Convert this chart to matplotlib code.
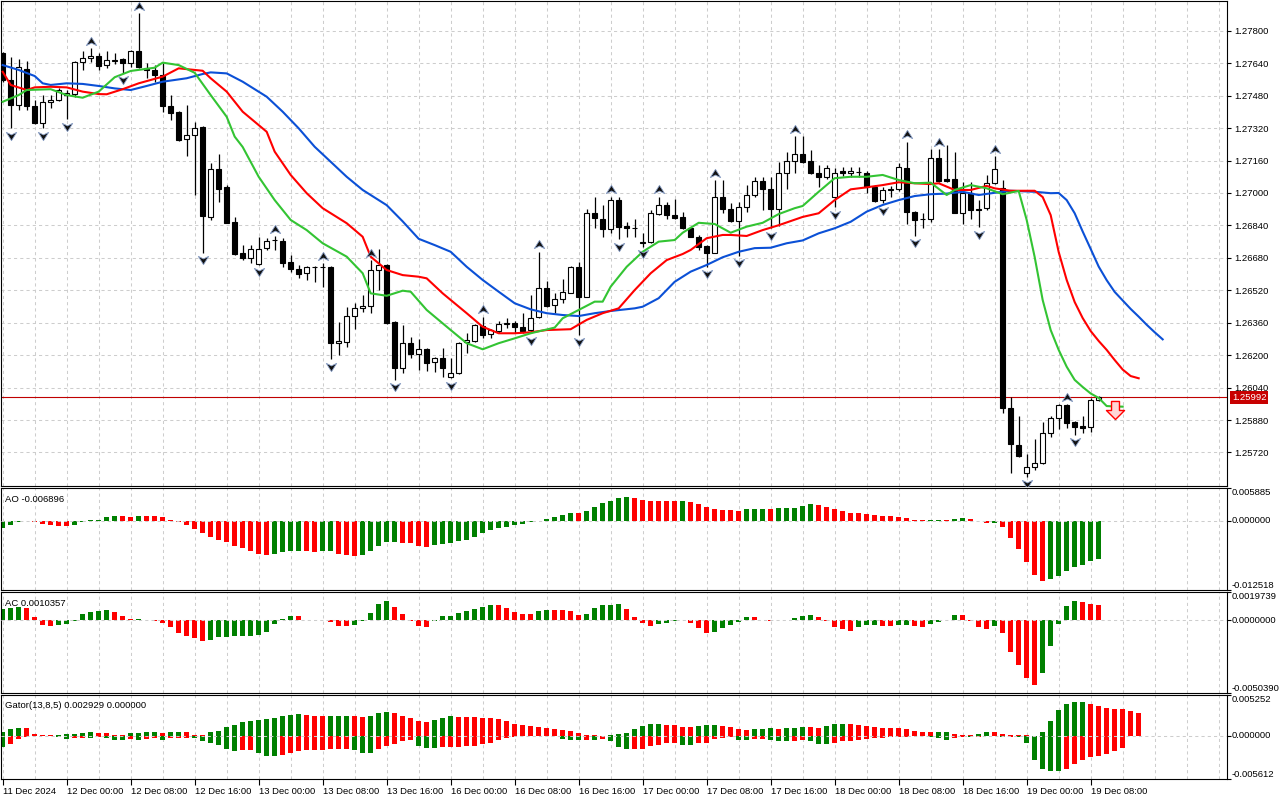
import numpy as np
import matplotlib.pyplot as plt
from matplotlib.path import Path

plt.rcParams['font.family'] = ['Liberation Sans', 'DejaVu Sans']

# ---- H1 candles, 11 Dec 2024 16:00 .. 19 Dec 2024 09:00 ----
opens = [1.27689, 1.27557, 1.27434, 1.27610, 1.27429, 1.27344, 1.27449, 1.27459, 1.27483, 1.27488,
         1.27645, 1.27664, 1.27676, 1.27630, 1.27653, 1.27661, 1.27640, 1.27699, 1.27618, 1.27607,
         1.27582, 1.27429, 1.27401, 1.27265, 1.27286, 1.27327, 1.26883, 1.27117, 1.27030, 1.26857,
         1.26703, 1.26678, 1.26650, 1.26727, 1.26768, 1.26763, 1.26658, 1.26627, 1.26604, 1.26636,
         1.26637, 1.26636, 1.26259, 1.26266, 1.26395, 1.26431, 1.26443, 1.26620, 1.26645, 1.26365,
         1.26135, 1.26262, 1.26204, 1.26230, 1.26166, 1.26186, 1.26094, 1.26111, 1.26265, 1.26271,
         1.26344, 1.26304, 1.26318, 1.26354, 1.26357, 1.26337, 1.26324, 1.26387, 1.26530, 1.26448,
         1.26476, 1.26508, 1.26633, 1.26488, 1.26900, 1.26872, 1.26821, 1.26965, 1.26837, 1.26827,
         1.26760, 1.26757, 1.26896, 1.26939, 1.26891, 1.26880, 1.26826, 1.26781, 1.26739, 1.26706,
         1.26982, 1.26921, 1.26863, 1.26932, 1.26990, 1.27058, 1.27018, 1.26920, 1.27097, 1.27159,
         1.27191, 1.27159, 1.27100, 1.27077, 1.26979, 1.27110, 1.27097, 1.27105, 1.27100, 1.27028,
         1.26965, 1.27015, 1.27018, 1.27122, 1.26908, 1.26870, 1.26870, 1.27171, 1.27068, 1.27068,
         1.26903, 1.27001, 1.26923, 1.26925, 1.27048, 1.27023, 1.25938, 1.25757, 1.25617, 1.25647,
         1.25667, 1.25818, 1.25889, 1.25954, 1.25872, 1.25851, 1.25844, 1.25979]
highs = [1.27697, 1.27672, 1.27660, 1.27651, 1.27459, 1.27483, 1.27483, 1.27516, 1.27508, 1.27651,
         1.27702, 1.27714, 1.27692, 1.27702, 1.27689, 1.27667, 1.27705, 1.27886, 1.27640, 1.27631,
         1.27640, 1.27483, 1.27405, 1.27433, 1.27352, 1.27330, 1.27147, 1.27192, 1.27039, 1.26883,
         1.26743, 1.26743, 1.26781, 1.26777, 1.26788, 1.26777, 1.26694, 1.26645, 1.26641, 1.26641,
         1.26653, 1.26640, 1.26365, 1.26436, 1.26456, 1.26497, 1.26669, 1.26722, 1.26650, 1.26370,
         1.26349, 1.26288, 1.26278, 1.26234, 1.26192, 1.26234, 1.26185, 1.26263, 1.26308, 1.26354,
         1.26390, 1.26328, 1.26370, 1.26382, 1.26370, 1.26410, 1.26497, 1.26710, 1.26567, 1.26505,
         1.26574, 1.26640, 1.26661, 1.26920, 1.26979, 1.26939, 1.26982, 1.26982, 1.26858, 1.26870,
         1.26801, 1.26916, 1.26982, 1.26957, 1.26969, 1.26908, 1.26834, 1.26793, 1.26743, 1.27064,
         1.27064, 1.26949, 1.26957, 1.27039, 1.27077, 1.27077, 1.27080, 1.27154, 1.27204, 1.27281,
         1.27281, 1.27212, 1.27138, 1.27138, 1.27122, 1.27130, 1.27130, 1.27130, 1.27109, 1.27039,
         1.27031, 1.27035, 1.27147, 1.27253, 1.26913, 1.26900, 1.27216, 1.27216, 1.27237, 1.27204,
         1.27056, 1.27056, 1.26965, 1.27089, 1.27183, 1.27064, 1.25995, 1.25900, 1.25712, 1.25785,
         1.25872, 1.25900, 1.25959, 1.25959, 1.25877, 1.25900, 1.25987, 1.25999]
lows = [1.27549, 1.27319, 1.27409, 1.27409, 1.27340, 1.27319, 1.27418, 1.27455, 1.27364, 1.27475,
        1.27607, 1.27648, 1.27607, 1.27618, 1.27636, 1.27593, 1.27623, 1.27615, 1.27566, 1.27549,
        1.27401, 1.27360, 1.27255, 1.27183, 1.26990, 1.26703, 1.26867, 1.26957, 1.26850, 1.26694,
        1.26669, 1.26656, 1.26645, 1.26719, 1.26719, 1.26636, 1.26612, 1.26579, 1.26571, 1.26562,
        1.26535, 1.26180, 1.26201, 1.26242, 1.26329, 1.26414, 1.26410, 1.26521, 1.26355, 1.26078,
        1.26111, 1.26185, 1.26127, 1.26123, 1.26118, 1.26094, 1.26086, 1.26107, 1.26209, 1.26266,
        1.26283, 1.26283, 1.26311, 1.26333, 1.26311, 1.26308, 1.26308, 1.26385, 1.26439, 1.26407,
        1.26456, 1.26505, 1.26300, 1.26485, 1.26826, 1.26784, 1.26804, 1.26772, 1.26784, 1.26781,
        1.26735, 1.26752, 1.26891, 1.26870, 1.26870, 1.26821, 1.26781, 1.26719, 1.26636, 1.26703,
        1.26903, 1.26858, 1.26689, 1.26908, 1.26982, 1.26916, 1.26826, 1.26837, 1.27018, 1.27097,
        1.27147, 1.27094, 1.27031, 1.27068, 1.26929, 1.27084, 1.27077, 1.27077, 1.27001, 1.26957,
        1.26949, 1.26982, 1.27011, 1.26847, 1.26788, 1.26826, 1.26858, 1.27056, 1.27054, 1.26900,
        1.26847, 1.26870, 1.26831, 1.26916, 1.27045, 1.25913, 1.25617, 1.25696, 1.25600, 1.25634,
        1.25664, 1.25798, 1.25834, 1.25839, 1.25806, 1.25818, 1.25822, 1.25975]
closes = [1.27557, 1.27434, 1.27623, 1.27429, 1.27344, 1.27447, 1.27459, 1.27508, 1.27492, 1.27646,
          1.27664, 1.27676, 1.27628, 1.27656, 1.27654, 1.27640, 1.27699, 1.27620, 1.27607, 1.27582,
          1.27429, 1.27396, 1.27261, 1.27286, 1.27319, 1.26887, 1.27117, 1.27021, 1.26853, 1.26699,
          1.26678, 1.26722, 1.26724, 1.26763, 1.26770, 1.26656, 1.26624, 1.26600, 1.26633, 1.26637,
          1.26636, 1.26259, 1.26270, 1.26393, 1.26431, 1.26443, 1.26620, 1.26645, 1.26360, 1.26135,
          1.26259, 1.26204, 1.26230, 1.26160, 1.26186, 1.26135, 1.26111, 1.26259, 1.26275, 1.26347,
          1.26301, 1.26324, 1.26354, 1.26358, 1.26337, 1.26321, 1.26382, 1.26530, 1.26444, 1.26476,
          1.26510, 1.26633, 1.26485, 1.26900, 1.26875, 1.26821, 1.26965, 1.26834, 1.26827, 1.26828,
          1.26755, 1.26900, 1.26939, 1.26891, 1.26875, 1.26826, 1.26784, 1.26735, 1.26706, 1.26982,
          1.26920, 1.26863, 1.26932, 1.26989, 1.27058, 1.27018, 1.26920, 1.27097, 1.27159, 1.27191,
          1.27154, 1.27100, 1.27077, 1.27122, 1.27100, 1.27097, 1.27109, 1.27106, 1.27028, 1.26962,
          1.27015, 1.27021, 1.27127, 1.26908, 1.26867, 1.26871, 1.27171, 1.27059, 1.27058, 1.26903,
          1.27001, 1.26916, 1.26916, 1.27048, 1.27117, 1.25938, 1.25760, 1.25703, 1.25647, 1.25667,
          1.25818, 1.25889, 1.25954, 1.25867, 1.25847, 1.25841, 1.25979, 1.25992]

# Bill Williams fractals (bar numbers)
fractal_up = [11, 17, 34, 40, 46, 60, 67, 76, 82, 89, 99, 113, 117, 124, 133]
fractal_down = [1, 5, 8, 15, 25, 32, 41, 49, 56, 66, 72, 77, 80, 88, 92, 96,
                104, 110, 114, 122, 128, 134]

# Alligator (13,8 / 8,5 / 5,3), shifted lines
jaw_idx = [0, 2, 4, 5, 6, 8, 10, 12, 14, 16, 18, 20, 23, 25, 26, 28, 30, 33, 35, 37,
           39, 41, 43, 45, 48, 50, 52, 54, 56, 58, 60, 62, 64, 66, 68, 70, 72, 74, 76, 79,
           80, 82, 84, 86, 88, 90, 92, 94, 96, 98, 100, 102, 104, 106, 108, 110, 112, 114, 116, 118,
           120, 122, 124, 126, 129, 131, 132, 133, 134, 135, 136, 137, 138, 139, 140, 141, 142, 143, 144, 145]
jaw_val = [1.27631, 1.27607, 1.27577, 1.27541, 1.27533, 1.27541, 1.27538, 1.27528, 1.27516, 1.27508,
           1.27528, 1.27549, 1.27566, 1.27587, 1.27595, 1.27590, 1.27549, 1.27475, 1.27401, 1.27319,
           1.27228, 1.27154, 1.27080, 1.27015, 1.26940, 1.26860, 1.26774, 1.26743, 1.26710, 1.26636,
           1.26571, 1.26513, 1.26456, 1.26426, 1.26407, 1.26398, 1.26393, 1.26407, 1.26418, 1.26431,
           1.26439, 1.26481, 1.26562, 1.26612, 1.26645, 1.26683, 1.26710, 1.26728, 1.26730, 1.26752,
           1.26766, 1.26801, 1.26826, 1.26858, 1.26908, 1.26941, 1.26965, 1.26985, 1.26994, 1.26997,
           1.27006, 1.26990, 1.27001, 1.27011, 1.27006, 1.26999, 1.27000, 1.26965, 1.26900, 1.26810,
           1.26724, 1.26637, 1.26570, 1.26512, 1.26470, 1.26428, 1.26390, 1.26350, 1.26313, 1.26278]
teeth_idx = [0, 1, 3, 4, 6, 8, 10, 12, 13, 15, 17, 20, 22, 25, 26, 28, 30, 33, 34, 36,
             38, 40, 43, 45, 46, 48, 50, 52, 53, 55, 58, 60, 62, 64, 66, 68, 71, 73, 75, 77,
             79, 81, 83, 85, 86, 88, 90, 91, 93, 95, 97, 100, 102, 104, 106, 108, 110, 112, 114, 116,
             117, 119, 121, 123, 124, 126, 129, 130, 131, 132, 133, 134, 135, 136, 137, 138, 139, 140, 141, 142]
teeth_val = [1.27598, 1.27533, 1.27508, 1.27521, 1.27524, 1.27521, 1.27500, 1.27488, 1.27487, 1.27512,
             1.27541, 1.27574, 1.27615, 1.27603, 1.27566, 1.27500, 1.27401, 1.27302, 1.27204, 1.27089,
             1.26999, 1.26925, 1.26851, 1.26784, 1.26686, 1.26620, 1.26595, 1.26587, 1.26579, 1.26505,
             1.26407, 1.26340, 1.26308, 1.26308, 1.26313, 1.26324, 1.26328, 1.26374, 1.26407, 1.26431,
             1.26521, 1.26604, 1.26669, 1.26699, 1.26719, 1.26777, 1.26793, 1.26793, 1.26788, 1.26817,
             1.26841, 1.26882, 1.26900, 1.26965, 1.27018, 1.27028, 1.27039, 1.27053, 1.27048, 1.27044,
             1.27048, 1.27015, 1.27015, 1.27035, 1.27023, 1.27011, 1.27011, 1.26980, 1.26891, 1.26709,
             1.26571, 1.26462, 1.26383, 1.26319, 1.26270, 1.26226, 1.26176, 1.26129, 1.26097, 1.26086]
lips_idx = [0, 2, 3, 6, 8, 10, 12, 14, 16, 19, 20, 22, 24, 26, 28, 29, 30, 32, 34, 36,
            38, 40, 43, 45, 46, 48, 50, 51, 53, 56, 58, 60, 62, 64, 66, 69, 70, 72, 74, 75,
            76, 78, 80, 82, 84, 85, 87, 89, 91, 93, 95, 97, 99, 100, 102, 104, 106, 108, 110, 112,
            114, 116, 118, 119, 121, 123, 125, 127, 128, 129, 130, 131, 132, 133, 134, 135, 136, 137, 138, 139, 140]
lips_val = [1.27450, 1.27483, 1.27508, 1.27512, 1.27483, 1.27470, 1.27500, 1.27571, 1.27602, 1.27618,
            1.27643, 1.27631, 1.27593, 1.27483, 1.27376, 1.27278, 1.27227, 1.27080, 1.26965, 1.26867,
            1.26817, 1.26752, 1.26686, 1.26604, 1.26505, 1.26493, 1.26518, 1.26513, 1.26423, 1.26324,
            1.26259, 1.26229, 1.26259, 1.26283, 1.26308, 1.26336, 1.26382, 1.26423, 1.26464, 1.26464,
            1.26538, 1.26636, 1.26710, 1.26760, 1.26768, 1.26804, 1.26853, 1.26847, 1.26804, 1.26834,
            1.26853, 1.26896, 1.26925, 1.26936, 1.27006, 1.27073, 1.27080, 1.27080, 1.27089, 1.27064,
            1.27048, 1.27051, 1.26990, 1.27015, 1.27039, 1.27023, 1.26994, 1.27010, 1.26867, 1.26684,
            1.26472, 1.26324, 1.26226, 1.26143, 1.26078, 1.26043, 1.26011, 1.25989, 1.25949, 1.25947, 1.25946]

sell_idx = 139
sell_price = 1.25930

# Awesome Oscillator
ao = [-0.00137, -0.00084, -0.00018, -0.00006, -0.00024, -0.00066, -0.00084, -0.00090, -0.00101, -0.00084,
      -0.00024, 0.00012, 0.00018, 0.00072, 0.00090, 0.00088, 0.00072, 0.00090, 0.00089, 0.00088,
      0.00072, 0.00012, -0.00030, -0.00084, -0.00155, -0.00227, -0.00304, -0.00358, -0.00394, -0.00466,
      -0.00501, -0.00555, -0.00609, -0.00621, -0.00603, -0.00561, -0.00555, -0.00553, -0.00556, -0.00567,
      -0.00555, -0.00552, -0.00603, -0.00627, -0.00639, -0.00615, -0.00543, -0.00466, -0.00394, -0.00388,
      -0.00406, -0.00412, -0.00466, -0.00484, -0.00448, -0.00430, -0.00412, -0.00370, -0.00352, -0.00287,
      -0.00227, -0.00167, -0.00125, -0.00107, -0.00084, -0.00060, -0.00024, -0.00006, 0.00030, 0.00066,
      0.00101, 0.00143, 0.00141, 0.00179, 0.00251, 0.00310, 0.00358, 0.00412, 0.00418, 0.00412,
      0.00370, 0.00358, 0.00356, 0.00355, 0.00354, 0.00357, 0.00340, 0.00293, 0.00239, 0.00203,
      0.00197, 0.00185, 0.00179, 0.00215, 0.00216, 0.00217, 0.00209, 0.00221, 0.00233, 0.00234,
      0.00257, 0.00293, 0.00287, 0.00251, 0.00209, 0.00173, 0.00143, 0.00141, 0.00119, 0.00107,
      0.00090, 0.00078, 0.00060, 0.00054, 0.00018, 0.00006, 0.00012, 0.00013, 0.00008, 0.00036,
      0.00054, 0.00024, -0.00010, -0.00042, -0.00040, -0.00119, -0.00316, -0.00513, -0.00752, -0.00985,
      -0.01093, -0.01051, -0.01003, -0.00913, -0.00842, -0.00794, -0.00734, -0.006896]

# Accelerator Oscillator
ac = [0.00076, 0.00087, 0.00094, 0.00085, 0.00021, -0.00031, -0.00038, -0.00031, -0.00024, -0.00005,
      0.00042, 0.00059, 0.00064, 0.00071, 0.00057, 0.00028, 0.00007, 0.00012, 0.00005, -0.00002,
      -0.00019, -0.00047, -0.00090, -0.00106, -0.00125, -0.00142, -0.00140, -0.00118, -0.00113, -0.00112,
      -0.00111, -0.00106, -0.00105, -0.00078, -0.00024, 0.00012, 0.00028, 0.00027, 0.00005, 0.00002,
      0.00003, -0.00014, -0.00038, -0.00039, -0.00031, -0.00005, 0.00052, 0.00116, 0.00135, 0.00094,
      0.00045, -0.00002, -0.00042, -0.00043, -0.00002, 0.00028, 0.00029, 0.00052, 0.00068, 0.00080,
      0.00094, 0.00106, 0.00104, 0.00085, 0.00057, 0.00045, 0.00044, 0.00066, 0.00071, 0.00070,
      0.00069, 0.00068, 0.00038, 0.00042, 0.00085, 0.00109, 0.00110, 0.00113, 0.00080, 0.00021,
      -0.00019, -0.00038, -0.00024, -0.00019, -0.00005, 0.00001, -0.00019, -0.00054, -0.00090, -0.00083,
      -0.00054, -0.00031, -0.00009, 0.00021, 0.00020, 0.00005, -0.00004, 0.00000, 0.00005, 0.00014,
      0.00033, 0.00038, 0.00021, -0.00002, -0.00047, -0.00059, -0.00071, -0.00047, -0.00035, -0.00034,
      -0.00038, -0.00039, -0.00035, -0.00031, -0.00042, -0.00047, -0.00026, -0.00009, 0.00002, 0.00035,
      0.00034, -0.00002, -0.00047, -0.00061, -0.00042, -0.00085, -0.00219, -0.00309, -0.00404, -0.00451,
      -0.00366, -0.00177, -0.00026, 0.00099, 0.00135, 0.00127, 0.00116, 0.0010357]

# Gator Oscillator (upper = |jaw-teeth|, lower = -|teeth-lips|)
gator_up = [0.00052, 0.00095, 0.00103, 0.00101, 0.00030, 0.00017, 0.00009, 0.00010, 0.00026, 0.00027,
            0.00039, 0.00052, 0.00039, 0.00038, 0.00017, 0.00016, 0.00039, 0.00043, 0.00052, 0.00053,
            0.00043, 0.00052, 0.00053, 0.00052, 0.00017, 0.00009, 0.00052, 0.00060, 0.00116, 0.00138,
            0.00181, 0.00190, 0.00211, 0.00224, 0.00237, 0.00259, 0.00267, 0.00284, 0.00267, 0.00259,
            0.00258, 0.00259, 0.00260, 0.00261, 0.00254, 0.00246, 0.00259, 0.00297, 0.00310, 0.00297,
            0.00259, 0.00237, 0.00194, 0.00181, 0.00211, 0.00237, 0.00259, 0.00246, 0.00245, 0.00244,
            0.00237, 0.00236, 0.00224, 0.00190, 0.00159, 0.00138, 0.00125, 0.00112, 0.00103, 0.00095,
            0.00073, 0.00065, 0.00043, 0.00017, 0.00009, 0.00002, 0.00017, 0.00030, 0.00043, 0.00086,
            0.00134, 0.00155, 0.00156, 0.00142, 0.00141, 0.00116, 0.00115, 0.00134, 0.00142, 0.00143,
            0.00129, 0.00116, 0.00095, 0.00082, 0.00083, 0.00095, 0.00103, 0.00095, 0.00096, 0.00104,
            0.00116, 0.00115, 0.00103, 0.00125, 0.00155, 0.00156, 0.00151, 0.00138, 0.00125, 0.00112,
            0.00108, 0.00107, 0.00106, 0.00091, 0.00065, 0.00056, 0.00052, 0.00053, 0.00054, 0.00030,
            0.00017, 0.00009, 0.00022, 0.00052, 0.00050, 0.00030, 0.00017, 0.00009, 0.00008, 0.00001,
            0.00052, 0.00194, 0.00332, 0.00418, 0.00444, 0.00445, 0.00418, 0.00392, 0.00366, 0.00353,
            0.00352, 0.00328, 0.002929]
gator_down = [-0.00142, -0.00099, -0.00034, -0.00013, -0.00004, -0.00005, -0.00006, -0.00008, -0.00034, -0.00033,
              -0.00022, -0.00023, -0.00013, -0.00026, -0.00047, -0.00048, -0.00046, -0.00047, -0.00034, -0.00033,
              -0.00047, -0.00026, -0.00022, -0.00021, -0.00022, -0.00065, -0.00086, -0.00112, -0.00172, -0.00194,
              -0.00185, -0.00184, -0.00220, -0.00254, -0.00255, -0.00250, -0.00220, -0.00194, -0.00185, -0.00177,
              -0.00176, -0.00175, -0.00164, -0.00163, -0.00185, -0.00216, -0.00218, -0.00164, -0.00134, -0.00099,
              -0.00065, -0.00047, -0.00129, -0.00151, -0.00152, -0.00142, -0.00141, -0.00140, -0.00134, -0.00133,
              -0.00108, -0.00086, -0.00056, -0.00022, -0.00013, -0.00004, -0.00004, -0.00003, -0.00004, -0.00005,
              -0.00034, -0.00047, -0.00056, -0.00047, -0.00056, -0.00043, -0.00069, -0.00142, -0.00166, -0.00165,
              -0.00164, -0.00134, -0.00112, -0.00086, -0.00086, -0.00112, -0.00113, -0.00091, -0.00090, -0.00043,
              -0.00022, -0.00017, -0.00056, -0.00057, -0.00043, -0.00034, -0.00047, -0.00069, -0.00070, -0.00065,
              -0.00047, -0.00069, -0.00108, -0.00109, -0.00091, -0.00069, -0.00060, -0.00047, -0.00034, -0.00022,
              -0.00021, -0.00020, -0.00009, -0.00008, -0.00005, -0.00006, -0.00017, -0.00022, -0.00047, -0.00022,
              -0.00009, -0.00017, -0.00009, -0.00004, -0.00002, -0.00017, -0.00009, -0.00010, -0.00086, -0.00315,
              -0.00422, -0.00457, -0.00458, -0.00422, -0.00366, -0.00315, -0.00276, -0.00263, -0.00237, -0.00198,
              -0.00159]

price_ticks = [1.25720, 1.25880, 1.26040, 1.26200, 1.26360, 1.26520, 1.26680,
               1.26840, 1.27000, 1.27160, 1.27320, 1.27480, 1.27640, 1.27800]
date_idx = [0, 8, 16, 24, 32, 40, 48, 56, 64, 72, 80, 88, 96, 104, 112, 120, 128, 136]
date_labels = ['11 Dec 2024', '12 Dec 00:00', '12 Dec 08:00', '12 Dec 16:00', '13 Dec 00:00',
               '13 Dec 08:00', '13 Dec 16:00', '16 Dec 00:00', '16 Dec 08:00', '16 Dec 16:00',
               '17 Dec 00:00', '17 Dec 08:00', '17 Dec 16:00', '18 Dec 00:00', '18 Dec 08:00',
               '18 Dec 16:00', '19 Dec 00:00', '19 Dec 08:00']

GREEN = '#008000'
RED = '#FF0000'
GRID = '#CDCDCD'
FS = 6.8
XLIM = (-0.21, 153.04)


def rising_colors(vals, absolute=False):
    v = np.abs(vals) if absolute else np.asarray(vals)
    cols = [GREEN]
    for k in range(1, len(v)):
        cols.append(GREEN if v[k] > v[k - 1] else RED)
    return cols


def base_axes(rect):
    ax = fig.add_axes(rect)
    ax.set_xlim(*XLIM)
    for s in ax.spines.values():
        s.set_linewidth(0.8)
    for g in range(0, 154, 4):
        ax.axvline(g, color=GRID, lw=0.75, dashes=(3, 3), zorder=0)
    ax.tick_params(axis='x', bottom=False, labelbottom=False)
    ax.tick_params(axis='y', left=False, labelleft=False, right=True, labelright=False,
                   direction='out', length=3, width=0.8)
    return ax


def oscillator(rect, top, bottom, name):
    ax = base_axes(rect)
    ax.set_ylim(bottom, top)
    # zero line is drawn over the histogram, as in the terminal
    ax.axhline(0, color=GRID, lw=0.75, dashes=(3, 3), zorder=4)
    ax.set_yticks([bottom, 0, top])
    fmt = '%.7f' if name.startswith('AC') else '%.6f'
    for val, va in ((top, 'top'), (0, 'center'), (bottom, 'bottom')):
        ax.annotate(fmt % val, xy=(1, val), xycoords=('axes fraction', 'data'),
                    xytext=(3.5, 0), textcoords='offset points', ha='left', va=va, fontsize=FS)
    ax.text(0.003, 0.93, name, transform=ax.transAxes, ha='left', va='top', fontsize=FS)
    return ax


fig = plt.figure(figsize=(12.8, 8), dpi=100)

# ---------------- main price window ----------------
ax = base_axes([1 / 1280, 1 - 486 / 800, 1226 / 1280, 485 / 800])
ax.set_ylim(1.255546, 1.279471)
ax.set_yticks(price_ticks)
ax.set_yticklabels(['%.5f' % p for p in price_ticks])
ax.tick_params(axis='y', labelright=True, labelsize=FS, pad=2)
for p in price_ticks:
    ax.axhline(p, color=GRID, lw=0.75, dashes=(3, 3), zorder=0)

x = np.arange(len(opens))
o = np.array(opens)
c = np.array(closes)
ax.vlines(x, lows, highs, color='black', lw=0.9, zorder=2)
body_low = np.minimum(o, c)
body_h = np.maximum(np.abs(c - o), 0.000004)
fills = ['white' if cc >= oo else 'black' for oo, cc in zip(o, c)]
ax.bar(x, body_h, bottom=body_low, width=0.62, color=fills, edgecolor='black',
       linewidth=0.8, zorder=3)

ax.plot(jaw_idx, jaw_val, color='#0B50D6', lw=1.5, zorder=4)
ax.plot(teeth_idx, teeth_val, color='#FF0000', lw=1.5, zorder=4)
ax.plot(lips_idx, lips_val, color='#33C433', lw=1.5, zorder=4)

# fractal arrows: wider than tall, notched at the back
up_path = Path([(0, 0.4), (0.5, -0.4), (0, -0.15), (-0.5, -0.4), (0, 0.4)],
               [Path.MOVETO, Path.LINETO, Path.LINETO, Path.LINETO, Path.CLOSEPOLY])
down_path = Path([(0, -0.4), (0.5, 0.4), (0, 0.15), (-0.5, 0.4), (0, -0.4)],
                 [Path.MOVETO, Path.LINETO, Path.LINETO, Path.LINETO, Path.CLOSEPOLY])
off = 0.00036
ax.plot(fractal_up, [highs[i] + off for i in fractal_up], ls='none', marker=up_path,
        ms=7.5, mfc='#111111', mec='#8aa0c8', mew=0.6, zorder=5)
ax.plot(fractal_down, [lows[i] - off for i in fractal_down], ls='none', marker=down_path,
        ms=7.5, mfc='#111111', mec='#8aa0c8', mew=0.6, zorder=5)

arrow = Path([(-0.22, 0.5), (0.22, 0.5), (0.22, 0.0), (0.5, 0.0), (0, -0.5),
              (-0.5, 0.0), (-0.22, 0.0), (-0.22, 0.5)],
             [Path.MOVETO] + [Path.LINETO] * 6 + [Path.CLOSEPOLY])
ax.plot([sell_idx], [sell_price], ls='none', marker=arrow, ms=13, mfc='#ffd6d6',
        mec=RED, mew=1.0, zorder=6)

last = closes[-1]
ax.axhline(last, color='#C00000', lw=0.8, zorder=1)
ax.annotate('%.5f' % last, xy=(1, last), xycoords=('axes fraction', 'data'),
            xytext=(3.5, 0), textcoords='offset points', ha='left', va='center',
            fontsize=FS, color='white',
            bbox=dict(boxstyle='square,pad=0.18', fc='#C80000', ec='none'))

# ---------------- AO ----------------
ax_ao = oscillator([1 / 1280, 1 - 590 / 800, 1226 / 1280, 102 / 800],
                   0.005885, -0.012518, 'AO %.6f' % ao[-1])
ax_ao.bar(np.arange(len(ao)), ao, width=0.55, color=rising_colors(ao), lw=0, zorder=2)

# ---------------- AC ----------------
ax_ac = oscillator([1 / 1280, 1 - 692.7 / 800, 1226 / 1280, 100.7 / 800],
                   0.0019739, -0.0050390, 'AC %.7f' % ac[-1])
ax_ac.bar(np.arange(len(ac)), ac, width=0.55, color=rising_colors(ac), lw=0, zorder=2)

# ---------------- Gator ----------------
ax_g = oscillator([1 / 1280, 1 - 779.3 / 800, 1226 / 1280, 84 / 800],
                  0.005252, -0.005612, 'Gator(13,8,5) %.6f 0.000000' % gator_up[-1])
ax_g.bar(np.arange(len(gator_up)), gator_up, width=0.55,
         color=rising_colors(gator_up), lw=0, zorder=2)
ax_g.bar(np.arange(len(gator_down)), gator_down, width=0.55,
         color=rising_colors(gator_down, absolute=True), lw=0, zorder=2)
ax_g.set_xticks(date_idx)
ax_g.set_xticklabels(date_labels, ha='left')
ax_g.tick_params(axis='x', bottom=True, labelbottom=True, direction='out', length=4,
                 width=0.8, pad=1.5, labelsize=FS)

fig.savefig('out.png', dpi=100, facecolor='white')
